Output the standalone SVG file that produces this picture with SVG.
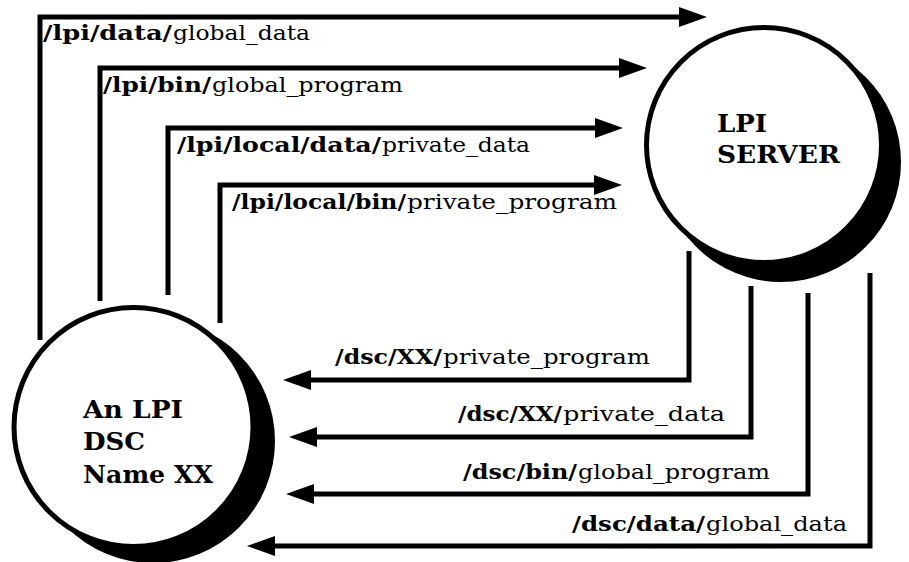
<svg xmlns="http://www.w3.org/2000/svg" width="909" height="562" viewBox="0 0 909 562">
  <defs>
    <style>
      .lbl { font-family: "DejaVu Serif", "Liberation Serif", serif; font-size: 21px; fill: #000; }
      .b { font-weight: bold; }
      .r { font-weight: normal; }
      .node { font-family: "DejaVu Serif", "Liberation Serif", serif; font-size: 25px; font-weight: bold; fill: #000; }
      .conn { fill: none; stroke: #000; stroke-width: 5; stroke-linejoin: miter; marker-end: url(#arrow); }
      .shadow { fill: #000; }
      .face { fill: #fff; stroke: #000; stroke-width: 5; }
    </style>
    <marker id="arrow" markerUnits="userSpaceOnUse" markerWidth="28" markerHeight="20" viewBox="0 0 28 20" refX="4" refY="10" orient="auto">
      <path d="M0,0 L28,10 L0,20 z" fill="#000"/>
    </marker>
  </defs>
  <rect width="909" height="562" fill="#fff"/>

  <g id="connectors">
    <path class="conn" d="M40 340 V17 H683"/>
    <path class="conn" d="M100 301 V68 H623"/>
    <path class="conn" d="M168 295 V128 H599"/>
    <path class="conn" d="M220 323 V185 H598"/>
    <path class="conn" d="M689 251 V380 H307"/>
    <path class="conn" d="M751 286 V437 H313"/>
    <path class="conn" d="M808 293 V494 H310"/>
    <path class="conn" d="M870 273 V546 H271"/>
  </g>

  <g id="labels">
    <text class="lbl" y="40"><tspan class="b" x="43" textLength="129" lengthAdjust="spacingAndGlyphs">/lpi/data/</tspan><tspan class="r" x="173" textLength="137" lengthAdjust="spacingAndGlyphs">global_data</tspan></text>
    <text class="lbl" y="92"><tspan class="b" x="103" textLength="108" lengthAdjust="spacingAndGlyphs">/lpi/bin/</tspan><tspan class="r" x="212" textLength="191" lengthAdjust="spacingAndGlyphs">global_program</tspan></text>
    <text class="lbl" y="152"><tspan class="b" x="177" textLength="204" lengthAdjust="spacingAndGlyphs">/lpi/local/data/</tspan><tspan class="r" x="382" textLength="148" lengthAdjust="spacingAndGlyphs">private_data</tspan></text>
    <text class="lbl" y="209"><tspan class="b" x="232" textLength="174" lengthAdjust="spacingAndGlyphs">/lpi/local/bin/</tspan><tspan class="r" x="407" textLength="210" lengthAdjust="spacingAndGlyphs">private_program</tspan></text>
    <text class="lbl" y="364"><tspan class="b" x="335" textLength="107" lengthAdjust="spacingAndGlyphs">/dsc/XX/</tspan><tspan class="r" x="443" textLength="207" lengthAdjust="spacingAndGlyphs">private_program</tspan></text>
    <text class="lbl" y="421"><tspan class="b" x="458" textLength="104" lengthAdjust="spacingAndGlyphs">/dsc/XX/</tspan><tspan class="r" x="563" textLength="162" lengthAdjust="spacingAndGlyphs">private_data</tspan></text>
    <text class="lbl" y="479"><tspan class="b" x="463" textLength="114" lengthAdjust="spacingAndGlyphs">/dsc/bin/</tspan><tspan class="r" x="578" textLength="192" lengthAdjust="spacingAndGlyphs">global_program</tspan></text>
    <text class="lbl" y="531"><tspan class="b" x="572" textLength="133" lengthAdjust="spacingAndGlyphs">/dsc/data/</tspan><tspan class="r" x="706" textLength="141" lengthAdjust="spacingAndGlyphs">global_data</tspan></text>
  </g>

  <g id="lpi-server">
    <circle class="shadow" cx="781" cy="162" r="120"/>
    <circle class="face" cx="764" cy="145" r="117.5"/>
    <text class="node" x="717" y="132" textLength="50" lengthAdjust="spacingAndGlyphs">LPI</text>
    <text class="node" x="717" y="163" textLength="123" lengthAdjust="spacingAndGlyphs">SERVER</text>
  </g>

  <g id="dsc-node">
    <circle class="shadow" cx="153" cy="441" r="122"/>
    <circle class="face" cx="133.5" cy="427" r="119.5"/>
    <text class="node" x="83" y="418" textLength="100" lengthAdjust="spacingAndGlyphs">An LPI</text>
    <text class="node" x="83" y="450" textLength="62" lengthAdjust="spacingAndGlyphs">DSC</text>
    <text class="node" x="83" y="483" textLength="130" lengthAdjust="spacingAndGlyphs">Name XX</text>
  </g>
</svg>
